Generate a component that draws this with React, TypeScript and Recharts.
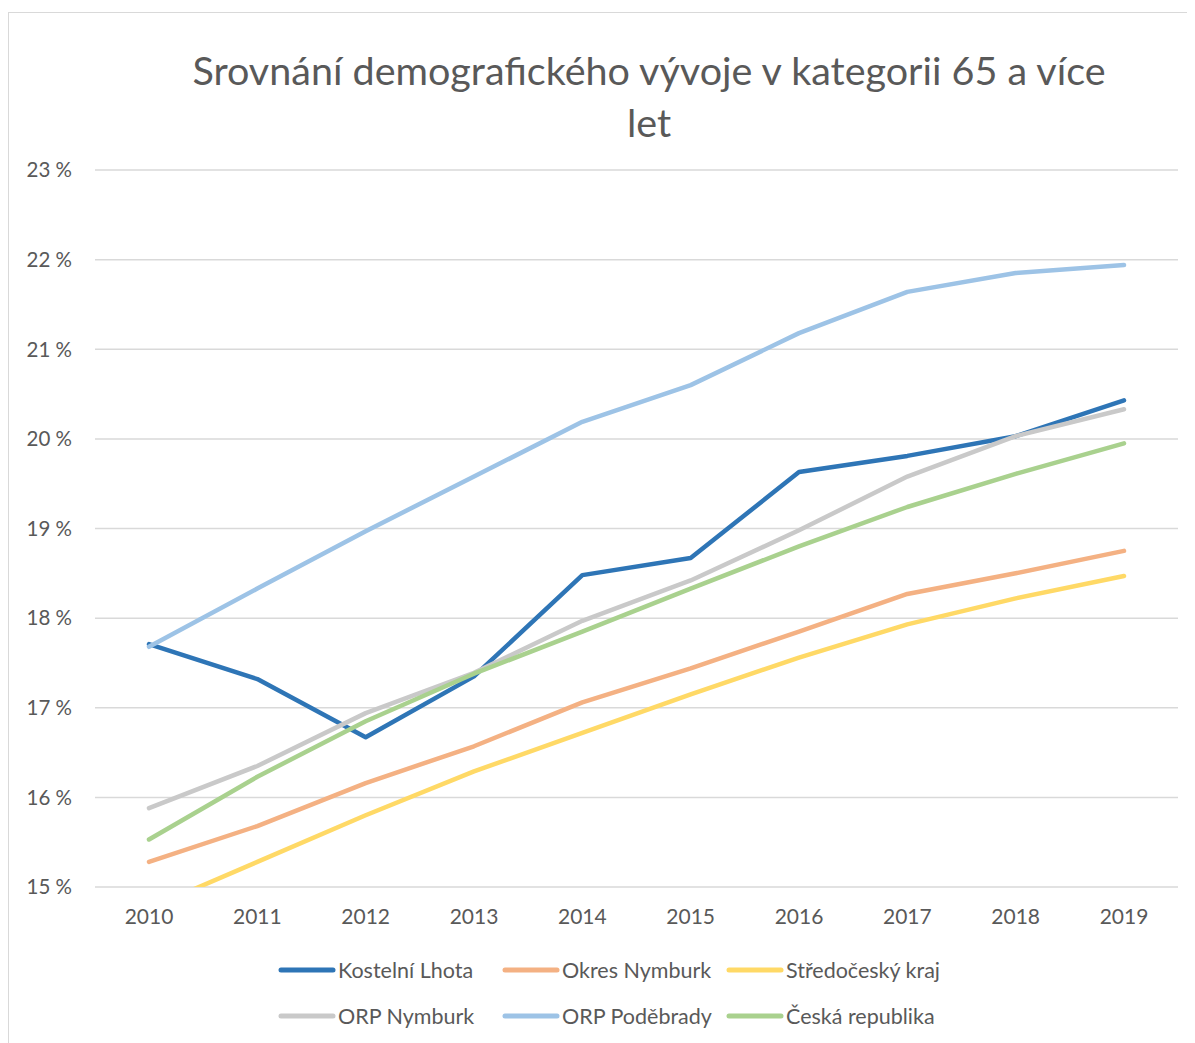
import { LineChart, Line, XAxis, YAxis, CartesianGrid, Legend } from 'recharts';

const years = ['2010', '2011', '2012', '2013', '2014', '2015', '2016', '2017', '2018', '2019'];

const kostelniLhota = [17.71, 17.32, 16.67, 17.35, 18.48, 18.67, 19.63, 19.81, 20.03, 20.43];
const okresNymburk = [15.28, 15.68, 16.16, 16.57, 17.06, 17.44, 17.85, 18.27, 18.5, 18.75];
const stredoceskyKraj = [14.76, 15.28, 15.8, 16.29, 16.72, 17.15, 17.56, 17.93, 18.22, 18.47];
const orpNymburk = [15.88, 16.35, 16.94, 17.39, 17.97, 18.42, 18.98, 19.58, 20.03, 20.33];
const orpPodebrady = [17.68, 18.33, 18.97, 19.58, 20.19, 20.6, 21.18, 21.64, 21.85, 21.94];
const ceskaRepublika = [15.53, 16.23, 16.85, 17.38, 17.85, 18.33, 18.8, 19.24, 19.61, 19.95];

const yTicks = [15, 16, 17, 18, 19, 20, 21, 22, 23];

const series = [
  { key: 'kl', name: 'Kostelní Lhota', values: kostelniLhota, color: '#2E75B6' },
  { key: 'on', name: 'Okres Nymburk', values: okresNymburk, color: '#F4B183' },
  { key: 'sk', name: 'Středočeský kraj', values: stredoceskyKraj, color: '#FFD966' },
  { key: 'orpn', name: 'ORP Nymburk', values: orpNymburk, color: '#C9C9C9' },
  { key: 'orpp', name: 'ORP Poděbrady', values: orpPodebrady, color: '#9DC3E6' },
  { key: 'cr', name: 'Česká republika', values: ceskaRepublika, color: '#A9D18E' },
];

const data = years.map((year, i) => {
  const row: Record<string, string | number> = { year };
  series.forEach((s) => {
    row[s.key] = s.values[i];
  });
  return row;
});

const font = 'Lato, "Open Sans", sans-serif';
const textColor = '#595959';

const LegendBox = () => (
  <div style={{ display: 'grid', gridTemplateColumns: 'repeat(3, 224px)', rowGap: 20, fontFamily: font, fontSize: 21.5, color: textColor }}>
    {series.map((s) => (
      <div key={s.key} style={{ display: 'flex', alignItems: 'center', height: 26, whiteSpace: 'nowrap' }}>
        <svg width={58} height={10} style={{ marginRight: 2, flexShrink: 0 }}>
          <line x1={3} y1={5} x2={55} y2={5} stroke={s.color} strokeWidth={5} strokeLinecap="round" />
        </svg>
        <span>{s.name}</span>
      </div>
    ))}
  </div>
);

const App = () => {
  return (
    <div style={{ position: 'relative', marginTop: 4, width: 1187, height: 1031, borderLeft: '1px solid #d9d9d9', borderTop: '1px solid #d9d9d9', overflow: 'hidden' }}>
      <div style={{ position: 'absolute', left: 0, top: 31, width: 1280, textAlign: 'center', fontFamily: font, fontSize: 39.5, lineHeight: '52px', color: textColor }}>
        Srovnání demografického vývoje v kategorii 65 a více
        <br />
        let
      </div>
      <LineChart width={1186} height={1030} data={data} margin={{ top: 157, right: 17, bottom: 116, left: 0 }}>
        <CartesianGrid horizontal vertical={false} stroke="#d9d9d9" strokeWidth={1.5} />
        <XAxis
          dataKey="year"
          axisLine={false}
          tickLine={false}
          tickSize={0}
          tickMargin={22}
          height={40}
          padding={{ left: 54, right: 54 }}
          tick={{ fill: textColor, fontSize: 21, fontFamily: font }}
        />
        <YAxis
          domain={[15, 23]}
          ticks={yTicks}
          allowDataOverflow
          axisLine={false}
          tickLine={false}
          tickSize={0}
          tickMargin={23}
          width={86}
          tickFormatter={(v) => `${v} %`}
          tick={{ fill: textColor, fontSize: 20.5, fontFamily: font }}
        />
        {series.map((s) => (
          <Line
            key={s.key}
            dataKey={s.key}
            name={s.name}
            stroke={s.color}
            strokeWidth={4.5}
            strokeLinecap="round"
            strokeLinejoin="round"
            dot={false}
            activeDot={false}
            isAnimationActive={false}
          />
        ))}
        <Legend
          verticalAlign="middle"
          align="center"
          wrapperStyle={{ top: 944, left: 269, width: 720 }}
          content={() => <LegendBox />}
        />
      </LineChart>
    </div>
  );
};

export default App;
